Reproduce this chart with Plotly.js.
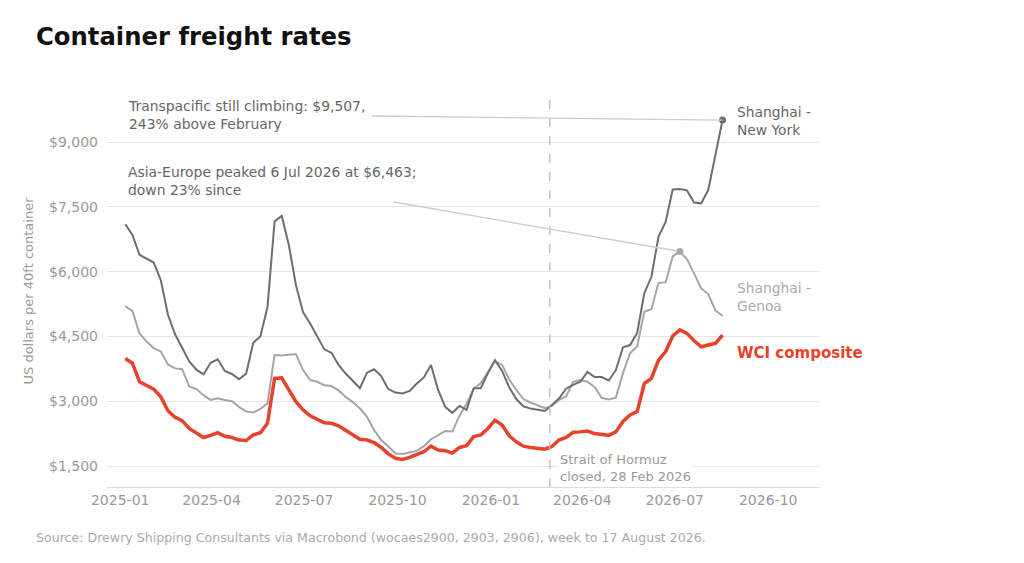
<!DOCTYPE html>
<html>
<head>
<meta charset="utf-8">
<script src="https://cdn.plot.ly/plotly-3.0.1.min.js"></script>
<style>html,body{margin:0;padding:0;background:#fff;}#chart{width:1024px;height:563px;}</style>
</head>
<body>
<div id="chart"></div>
<script>
// Weekly dates (Mondays)
const weeks = [
 '2025-01-06','2025-01-13','2025-01-20','2025-01-27','2025-02-03','2025-02-10','2025-02-17','2025-02-24',
 '2025-03-03','2025-03-10','2025-03-17','2025-03-24','2025-03-31','2025-04-07','2025-04-14','2025-04-21','2025-04-28',
 '2025-05-05','2025-05-12','2025-05-19','2025-05-26','2025-06-02','2025-06-09','2025-06-16','2025-06-23','2025-06-30',
 '2025-07-07','2025-07-14','2025-07-21','2025-07-28','2025-08-04','2025-08-11','2025-08-18','2025-08-25',
 '2025-09-01','2025-09-08','2025-09-15','2025-09-22','2025-09-29','2025-10-06','2025-10-13','2025-10-20','2025-10-27',
 '2025-11-03','2025-11-10','2025-11-17','2025-11-24','2025-12-01','2025-12-08','2025-12-15','2025-12-22','2025-12-29',
 '2026-01-05','2026-01-12','2026-01-19','2026-01-26','2026-02-02','2026-02-09','2026-02-16','2026-02-23',
 '2026-03-02','2026-03-09','2026-03-16','2026-03-23','2026-03-30','2026-04-06','2026-04-13','2026-04-20','2026-04-27',
 '2026-05-04','2026-05-11','2026-05-18','2026-05-25','2026-06-01','2026-06-08','2026-06-15','2026-06-22','2026-06-29',
 '2026-07-06','2026-07-13','2026-07-20','2026-07-27','2026-08-03','2026-08-10','2026-08-17'
];

const shanghaiNewYork = [
 7095, 6850, 6390, 6290, 6210, 5800, 5000, 4550, 4250, 3920,
 3730, 3620, 3890, 3970, 3700, 3630, 3510, 3640, 4350, 4500,
 5180, 7160, 7290, 6620, 5690, 5060, 4800, 4490, 4200, 4120,
 3840, 3640, 3470, 3300, 3660, 3740, 3580, 3280, 3200, 3180,
 3240, 3410, 3550, 3840, 3260, 2870, 2730, 2890, 2800, 3300,
 3300, 3650, 3950, 3700, 3320, 3050, 2880, 2830, 2800, 2772,
 2910, 3060, 3290, 3380, 3450, 3680, 3560, 3560, 3480, 3720,
 4250, 4300, 4580, 5500, 5880, 6810, 7150, 7900, 7910, 7880,
 7600, 7580, 7890, 8700, 9507
];

const shanghaiGenoa = [
 5200, 5090, 4570, 4380, 4230, 4150, 3850, 3760, 3740, 3340,
 3280, 3140, 3030, 3070, 3030, 3000, 2870, 2760, 2740, 2820,
 2950, 4070, 4060, 4070, 4090, 3720, 3490, 3450, 3370, 3350,
 3250, 3100, 2980, 2830, 2640, 2330, 2100, 1950, 1790, 1780,
 1810, 1850, 1960, 2120, 2210, 2310, 2300, 2660, 2940, 3280,
 3420, 3680, 3930, 3840, 3500, 3260, 3050, 2970, 2900, 2840,
 2890, 3030, 3110, 3450, 3490, 3450, 3330, 3080, 3040, 3080,
 3650, 4110, 4270, 5070, 5130, 5740, 5750, 6350, 6463, 6290,
 5960, 5610, 5480, 5100, 4977
];

const wciComposite = [
 3990, 3880, 3450, 3370, 3280, 3100, 2780, 2630, 2550, 2370,
 2260, 2160, 2210, 2270, 2190, 2160, 2100, 2090, 2220, 2270,
 2490, 3530, 3540, 3280, 2990, 2800, 2660, 2580, 2500, 2490,
 2430, 2330, 2230, 2120, 2100, 2040, 1930, 1780, 1680, 1650,
 1700, 1760, 1830, 1960, 1870, 1855, 1800, 1930, 1970, 2180,
 2220, 2370, 2560, 2450, 2200, 2060, 1960, 1930, 1910, 1890,
 1950, 2100, 2160, 2280, 2290, 2310, 2250, 2220, 2210, 2290,
 2530, 2680, 2760, 3410, 3530, 3950, 4150, 4510, 4650, 4570,
 4400, 4260, 4300, 4340, 4530
];

const yTickVals = [1500, 3000, 4500, 6000, 7500, 9000];
const yTickText = ['$1,500', '$3,000', '$4,500', '$6,000', '$7,500', '$9,000'];
const xTickVals = ['2025-01-01','2025-04-01','2025-07-01','2025-10-01','2026-01-01','2026-04-01','2026-07-01','2026-10-01'];
const xTickText = ['2025-01','2025-04','2025-07','2025-10','2026-01','2026-04','2026-07','2026-10'];
const hormuzDate = '2026-02-28';
const genoaPeakDate = '2026-07-06';

const FONT = 'DejaVu Sans, Verdana, sans-serif';
const C_NY = '#6e6e6e', C_GEN = '#a6a6a6', C_WCI = '#e8412c';

const last = weeks.length - 1;
const peakIdx = weeks.indexOf(genoaPeakDate);

const traces = [
 {x: weeks, y: shanghaiGenoa, mode: 'lines', line: {color: C_GEN, width: 2}, hoverinfo: 'skip'},
 {x: weeks, y: shanghaiNewYork, mode: 'lines', line: {color: C_NY, width: 2}, hoverinfo: 'skip'},
 {x: weeks, y: wciComposite, mode: 'lines', line: {color: C_WCI, width: 3.5}, hoverinfo: 'skip'},
 {x: [weeks[last]], y: [shanghaiNewYork[last]], mode: 'markers', marker: {color: C_NY, size: 7}},
 {x: [weeks[peakIdx]], y: [shanghaiGenoa[peakIdx]], mode: 'markers', marker: {color: C_GEN, size: 7}}
];

const layout = {
 width: 1024, height: 563,
 margin: {l: 107, r: 204, t: 95, b: 76},
 paper_bgcolor: '#fff', plot_bgcolor: '#fff',
 showlegend: false,
 font: {family: FONT, color: '#999', size: 14},
 title: {
  text: '<b>Container freight rates</b>',
  font: {family: FONT, size: 24.3, color: '#111'},
  xref: 'container', x: 36/1024, xanchor: 'left',
  yref: 'container', y: 1 - 36/563, yanchor: 'middle'
 },
 xaxis: {
  type: 'date',
  range: ['2024-12-19', '2026-11-21'],
  tickvals: xTickVals, ticktext: xTickText,
  showgrid: false, zeroline: false,
  showline: true, linecolor: '#dddddd', linewidth: 1,
  ticks: '', tickfont: {family: FONT, size: 14, color: '#999'},
  fixedrange: true
 },
 yaxis: {
  range: [1014, 10088],
  tickvals: yTickVals, ticktext: yTickText,
  showgrid: true, gridcolor: '#e6e6e6', gridwidth: 1,
  zeroline: false, showline: false,
  ticks: '', ticklabelstandoff: 8,
  tickfont: {family: FONT, size: 14, color: '#999'},
  title: {text: 'US dollars per 40ft container', font: {family: FONT, size: 13, color: '#999'}, standoff: 12},
  fixedrange: true
 },
 shapes: [
  {type: 'line', xref: 'x', yref: 'paper', x0: hormuzDate, x1: hormuzDate, y0: 0, y1: 1,
   line: {color: '#bbbbbb', width: 1.3, dash: 'dash'}},
  {type: 'line', xref: 'x', yref: 'y', x0: '2025-09-06', y0: 9602, x1: weeks[last], y1: shanghaiNewYork[last],
   line: {color: '#cccccc', width: 1.3}},
  {type: 'line', xref: 'x', yref: 'y', x0: '2025-09-27', y0: 7611, x1: '2026-07-02', y1: shanghaiGenoa[peakIdx] + 20,
   line: {color: '#cccccc', width: 1.3}}
 ],
 annotations: [
  {xref: 'paper', yref: 'paper', x: (126-107)/713, y: (487-115)/392, xanchor: 'left', yanchor: 'middle', align: 'left',
   showarrow: false, text: 'Transpacific still climbing: $9,507,<br>243% above February',
   font: {family: FONT, size: 13.9, color: '#666'}},
  {xref: 'paper', yref: 'paper', x: (126-107)/713, y: (487-181)/392, xanchor: 'left', yanchor: 'middle', align: 'left',
   showarrow: false, text: 'Asia-Europe peaked 6 Jul 2026 at $6,463;<br>down 23% since',
   font: {family: FONT, size: 13.9, color: '#666'}},
  {xref: 'x', yref: 'y', x: weeks[last], y: shanghaiNewYork[last], xanchor: 'left', yanchor: 'middle', align: 'left',
   xshift: 12, yshift: -1, showarrow: false, text: 'Shanghai -<br>New York',
   font: {family: FONT, size: 13.8, color: '#666'}},
  {xref: 'x', yref: 'y', x: weeks[last], y: shanghaiGenoa[last], xanchor: 'left', yanchor: 'middle', align: 'left',
   xshift: 12, yshift: 19, showarrow: false, text: 'Shanghai -<br>Genoa',
   font: {family: FONT, size: 13.8, color: '#aaa'}},
  {xref: 'x', yref: 'y', x: weeks[last], y: wciComposite[last], xanchor: 'left', yanchor: 'middle', align: 'left',
   xshift: 12, yshift: -18, showarrow: false, text: '<b>WCI composite</b>',
   font: {family: FONT, size: 15, color: C_WCI}},
  {xref: 'x', yref: 'paper', x: hormuzDate, y: (487-468)/392, xanchor: 'left', yanchor: 'middle', align: 'left',
   xshift: 8, showarrow: false, text: 'Strait of Hormuz<br>closed, 28 Feb 2026', bgcolor: '#ffffff',
   font: {family: FONT, size: 13, color: '#999'}},
  {xref: 'paper', yref: 'paper', x: (34-107)/713, y: (487-537)/392, xanchor: 'left', yanchor: 'middle', align: 'left',
   showarrow: false, text: 'Source: Drewry Shipping Consultants via Macrobond (wocaes2900, 2903, 2906), week to 17 August 2026.',
   font: {family: FONT, size: 12.6, color: '#aaa'}}
 ]
};

Plotly.newPlot('chart', traces, layout, {staticPlot: true, displayModeBar: false});
</script>
</body>
</html>
